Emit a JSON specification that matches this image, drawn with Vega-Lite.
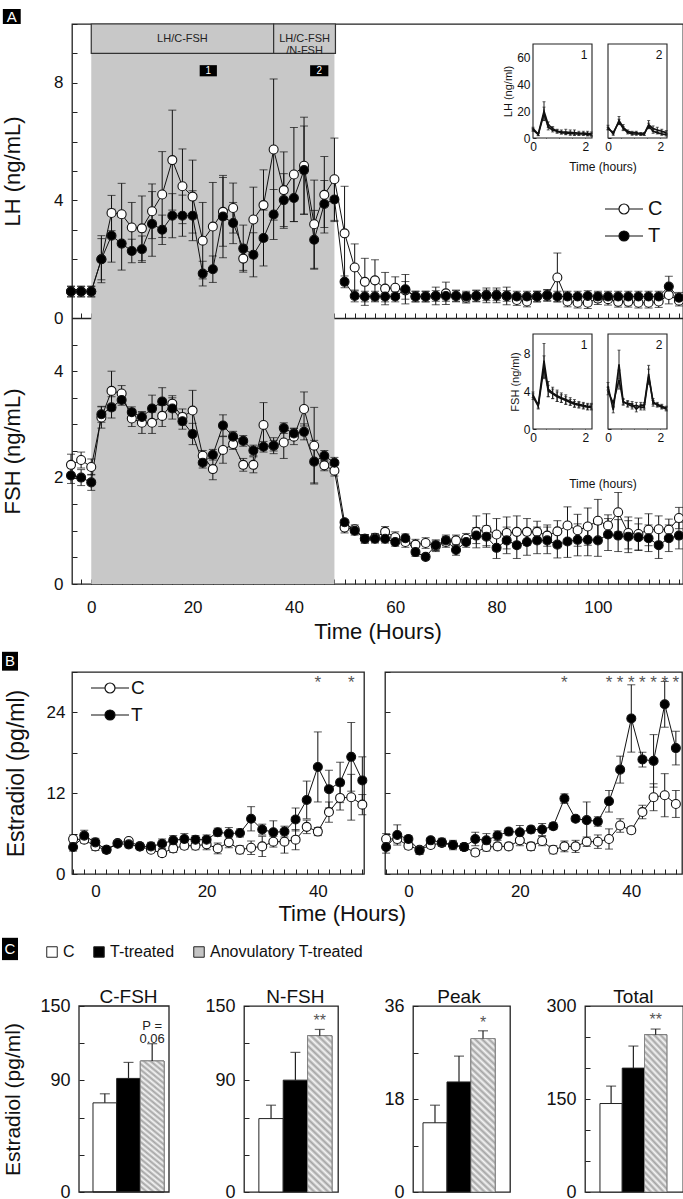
{
"$schema": "https://vega.github.io/schema/vega-lite/v6.json",
"padding": {"left": 0, "top": 8, "right": 0, "bottom": 0},
"config": {
 "font": "Liberation Sans",
 "view": {"stroke": "#222", "strokeWidth": 1.3},
 "axis": {"grid": false, "domain": false, "ticks": true, "tickColor": "#222", "tickWidth": 1, "tickSize": -5, "labelPadding": 14, "labelFontSize": 17, "labelColor": "#111", "labelOverlap": false, "labelFlush": false, "titleFontSize": 22, "titleFontWeight": "normal", "titleColor": "#111", "zindex": 1},
 "legend": {"labelFontSize": 18, "labelColor": "#111", "symbolOpacity": 1},
 "title": {"fontWeight": "normal", "color": "#111"}
},
"datasets": {
 "lh": [
  {"h":-4,"g":"C","v":0.9,"e":0.18},{"h":-2,"g":"C","v":0.9,"e":0.18},{"h":0,"g":"C","v":0.9,"e":0.18},{"h":2,"g":"C","v":2.0,"e":0.7},{"h":4,"g":"C","v":3.57,"e":0.6},{"h":6,"g":"C","v":3.53,"e":1.05},{"h":8,"g":"C","v":3.08,"e":0.85},{"h":10,"g":"C","v":3.05,"e":1.1},{"h":12,"g":"C","v":3.63,"e":0.93},{"h":14,"g":"C","v":4.2,"e":1.46},{"h":16,"g":"C","v":5.37,"e":1.7},{"h":18,"g":"C","v":4.48,"e":1.27},{"h":20,"g":"C","v":4.13,"e":1.24},{"h":22,"g":"C","v":2.63,"e":1.3},{"h":24,"g":"C","v":3.11,"e":1.5},{"h":26,"g":"C","v":3.61,"e":1.17},{"h":28,"g":"C","v":3.74,"e":0.85},{"h":30,"g":"C","v":2.02,"e":0.4},{"h":32,"g":"C","v":3.35,"e":1.1},{"h":34,"g":"C","v":3.84,"e":1.2},{"h":36,"g":"C","v":5.73,"e":2.4},{"h":38,"g":"C","v":4.35,"e":1.3},{"h":40,"g":"C","v":4.88,"e":1.6},{"h":42,"g":"C","v":5.18,"e":1.65},{"h":44,"g":"C","v":3.19,"e":1.5},{"h":46,"g":"C","v":4.19,"e":1.3},{"h":48,"g":"C","v":4.72,"e":1.4},{"h":50,"g":"C","v":2.88,"e":1.6},{"h":52,"g":"C","v":1.72,"e":0.8},{"h":54,"g":"C","v":1.23,"e":0.8},{"h":56,"g":"C","v":1.28,"e":0.7},{"h":58,"g":"C","v":1.0,"e":0.55},{"h":60,"g":"C","v":1.03,"e":0.37},{"h":62,"g":"C","v":0.94,"e":0.3},{"h":64,"g":"C","v":0.73,"e":0.18},{"h":66,"g":"C","v":0.73,"e":0.18},{"h":68,"g":"C","v":0.75,"e":0.3},{"h":70,"g":"C","v":0.84,"e":0.38},{"h":72,"g":"C","v":0.75,"e":0.2},{"h":74,"g":"C","v":0.69,"e":0.18},{"h":76,"g":"C","v":0.75,"e":0.2},{"h":78,"g":"C","v":0.77,"e":0.25},{"h":80,"g":"C","v":0.77,"e":0.25},{"h":82,"g":"C","v":0.75,"e":0.3},{"h":84,"g":"C","v":0.61,"e":0.18},{"h":86,"g":"C","v":0.56,"e":0.18},{"h":88,"g":"C","v":0.73,"e":0.18},{"h":90,"g":"C","v":0.77,"e":0.2},{"h":92,"g":"C","v":1.38,"e":0.83},{"h":94,"g":"C","v":0.56,"e":0.18},{"h":96,"g":"C","v":0.52,"e":0.18},{"h":98,"g":"C","v":0.52,"e":0.2},{"h":100,"g":"C","v":0.66,"e":0.2},{"h":102,"g":"C","v":0.64,"e":0.2},{"h":104,"g":"C","v":0.55,"e":0.18},{"h":106,"g":"C","v":0.55,"e":0.18},{"h":108,"g":"C","v":0.52,"e":0.18},{"h":110,"g":"C","v":0.52,"e":0.18},{"h":112,"g":"C","v":0.56,"e":0.2},{"h":114,"g":"C","v":0.78,"e":0.3},{"h":116,"g":"C","v":0.59,"e":0.18},
  {"h":-4,"g":"T","v":0.9,"e":0.18},{"h":-2,"g":"T","v":0.9,"e":0.18},{"h":0,"g":"T","v":0.9,"e":0.18},{"h":2,"g":"T","v":2.0,"e":0.8},{"h":4,"g":"T","v":2.8,"e":0.9},{"h":6,"g":"T","v":2.53,"e":0.9},{"h":8,"g":"T","v":2.28,"e":0.4},{"h":10,"g":"T","v":2.34,"e":0.45},{"h":12,"g":"T","v":3.2,"e":1.1},{"h":14,"g":"T","v":3.0,"e":0.5},{"h":16,"g":"T","v":3.48,"e":0.75},{"h":18,"g":"T","v":3.48,"e":0.7},{"h":20,"g":"T","v":3.48,"e":0.85},{"h":22,"g":"T","v":1.51,"e":0.42},{"h":24,"g":"T","v":1.66,"e":0.45},{"h":26,"g":"T","v":3.45,"e":1.4},{"h":28,"g":"T","v":3.23,"e":0.7},{"h":30,"g":"T","v":2.36,"e":0.8},{"h":32,"g":"T","v":2.15,"e":0.75},{"h":34,"g":"T","v":2.72,"e":0.95},{"h":36,"g":"T","v":3.52,"e":0.85},{"h":38,"g":"T","v":4.01,"e":0.9},{"h":40,"g":"T","v":4.08,"e":0.8},{"h":42,"g":"T","v":5.03,"e":1.5},{"h":44,"g":"T","v":2.66,"e":1.0},{"h":46,"g":"T","v":3.88,"e":0.8},{"h":48,"g":"T","v":4.03,"e":0.75},{"h":50,"g":"T","v":1.23,"e":0.2},{"h":52,"g":"T","v":0.75,"e":0.2},{"h":54,"g":"T","v":0.73,"e":0.18},{"h":56,"g":"T","v":0.73,"e":0.18},{"h":58,"g":"T","v":0.73,"e":0.18},{"h":60,"g":"T","v":0.73,"e":0.18},{"h":62,"g":"T","v":0.98,"e":0.5},{"h":64,"g":"T","v":0.73,"e":0.18},{"h":66,"g":"T","v":0.73,"e":0.18},{"h":68,"g":"T","v":0.75,"e":0.18},{"h":70,"g":"T","v":0.75,"e":0.18},{"h":72,"g":"T","v":0.75,"e":0.18},{"h":74,"g":"T","v":0.73,"e":0.18},{"h":76,"g":"T","v":0.75,"e":0.18},{"h":78,"g":"T","v":0.77,"e":0.18},{"h":80,"g":"T","v":0.77,"e":0.18},{"h":82,"g":"T","v":0.75,"e":0.18},{"h":84,"g":"T","v":0.73,"e":0.18},{"h":86,"g":"T","v":0.73,"e":0.18},{"h":88,"g":"T","v":0.73,"e":0.18},{"h":90,"g":"T","v":0.77,"e":0.18},{"h":92,"g":"T","v":0.73,"e":0.18},{"h":94,"g":"T","v":0.73,"e":0.18},{"h":96,"g":"T","v":0.73,"e":0.18},{"h":98,"g":"T","v":0.75,"e":0.18},{"h":100,"g":"T","v":0.73,"e":0.18},{"h":102,"g":"T","v":0.73,"e":0.18},{"h":104,"g":"T","v":0.73,"e":0.18},{"h":106,"g":"T","v":0.73,"e":0.18},{"h":108,"g":"T","v":0.73,"e":0.18},{"h":110,"g":"T","v":0.73,"e":0.18},{"h":112,"g":"T","v":0.73,"e":0.18},{"h":114,"g":"T","v":1.07,"e":0.35},{"h":116,"g":"T","v":0.69,"e":0.18}
 ],
 "fsh": [
  {"h":-4,"g":"C","v":2.24,"e":0.2},{"h":-2,"g":"C","v":2.33,"e":0.15},{"h":0,"g":"C","v":2.2,"e":0.15},{"h":2,"g":"C","v":3.13,"e":0.2},{"h":4,"g":"C","v":3.63,"e":0.37},{"h":6,"g":"C","v":3.58,"e":0.15},{"h":8,"g":"C","v":3.11,"e":0.15},{"h":10,"g":"C","v":3.03,"e":0.2},{"h":12,"g":"C","v":3.03,"e":0.2},{"h":14,"g":"C","v":3.16,"e":0.2},{"h":16,"g":"C","v":3.39,"e":0.15},{"h":18,"g":"C","v":3.14,"e":0.15},{"h":20,"g":"C","v":3.26,"e":0.38},{"h":22,"g":"C","v":2.41,"e":0.1},{"h":24,"g":"C","v":2.16,"e":0.2},{"h":26,"g":"C","v":2.52,"e":0.25},{"h":28,"g":"C","v":2.63,"e":0.1},{"h":30,"g":"C","v":2.24,"e":0.12},{"h":32,"g":"C","v":2.24,"e":0.15},{"h":34,"g":"C","v":2.99,"e":0.42},{"h":36,"g":"C","v":2.6,"e":0.15},{"h":38,"g":"C","v":2.66,"e":0.3},{"h":40,"g":"C","v":2.77,"e":0.15},{"h":42,"g":"C","v":3.29,"e":0.32},{"h":44,"g":"C","v":2.6,"e":0.72},{"h":46,"g":"C","v":2.23,"e":0.1},{"h":48,"g":"C","v":2.13,"e":0.1},{"h":50,"g":"C","v":1.06,"e":0.1},{"h":52,"g":"C","v":1.03,"e":0.08},{"h":54,"g":"C","v":0.85,"e":0.08},{"h":56,"g":"C","v":0.87,"e":0.08},{"h":58,"g":"C","v":0.98,"e":0.1},{"h":60,"g":"C","v":0.88,"e":0.1},{"h":62,"g":"C","v":0.79,"e":0.1},{"h":64,"g":"C","v":0.74,"e":0.1},{"h":66,"g":"C","v":0.77,"e":0.1},{"h":68,"g":"C","v":0.71,"e":0.1},{"h":70,"g":"C","v":0.79,"e":0.1},{"h":72,"g":"C","v":0.82,"e":0.1},{"h":74,"g":"C","v":0.85,"e":0.1},{"h":76,"g":"C","v":0.98,"e":0.3},{"h":78,"g":"C","v":1.02,"e":0.3},{"h":80,"g":"C","v":0.93,"e":0.3},{"h":82,"g":"C","v":0.96,"e":0.3},{"h":84,"g":"C","v":0.98,"e":0.3},{"h":86,"g":"C","v":0.98,"e":0.25},{"h":88,"g":"C","v":0.98,"e":0.2},{"h":90,"g":"C","v":0.91,"e":0.2},{"h":92,"g":"C","v":0.99,"e":0.2},{"h":94,"g":"C","v":1.1,"e":0.35},{"h":96,"g":"C","v":1.01,"e":0.3},{"h":98,"g":"C","v":1.08,"e":0.35},{"h":100,"g":"C","v":1.19,"e":0.4},{"h":102,"g":"C","v":1.1,"e":0.2},{"h":104,"g":"C","v":1.35,"e":0.37},{"h":106,"g":"C","v":0.96,"e":0.3},{"h":108,"g":"C","v":0.94,"e":0.3},{"h":110,"g":"C","v":1.02,"e":0.3},{"h":112,"g":"C","v":1.03,"e":0.25},{"h":114,"g":"C","v":1.02,"e":0.2},{"h":116,"g":"C","v":1.24,"e":0.2},
  {"h":-4,"g":"T","v":2.04,"e":0.15},{"h":-2,"g":"T","v":2.0,"e":0.15},{"h":0,"g":"T","v":1.91,"e":0.15},{"h":2,"g":"T","v":3.19,"e":0.15},{"h":4,"g":"T","v":3.32,"e":0.2},{"h":6,"g":"T","v":3.46,"e":0.1},{"h":8,"g":"T","v":3.23,"e":0.1},{"h":10,"g":"T","v":3.14,"e":0.1},{"h":12,"g":"T","v":3.3,"e":0.25},{"h":14,"g":"T","v":3.43,"e":0.26},{"h":16,"g":"T","v":3.3,"e":0.2},{"h":18,"g":"T","v":3.06,"e":0.15},{"h":20,"g":"T","v":2.82,"e":0.2},{"h":22,"g":"T","v":2.28,"e":0.1},{"h":24,"g":"T","v":2.43,"e":0.1},{"h":26,"g":"T","v":2.98,"e":0.2},{"h":28,"g":"T","v":2.77,"e":0.1},{"h":30,"g":"T","v":2.69,"e":0.1},{"h":32,"g":"T","v":2.51,"e":0.1},{"h":34,"g":"T","v":2.58,"e":0.1},{"h":36,"g":"T","v":2.6,"e":0.1},{"h":38,"g":"T","v":2.93,"e":0.1},{"h":40,"g":"T","v":2.83,"e":0.1},{"h":42,"g":"T","v":2.86,"e":0.15},{"h":44,"g":"T","v":2.3,"e":0.4},{"h":46,"g":"T","v":2.41,"e":0.1},{"h":48,"g":"T","v":2.28,"e":0.1},{"h":50,"g":"T","v":1.16,"e":0.05},{"h":52,"g":"T","v":1.0,"e":0.08},{"h":54,"g":"T","v":0.85,"e":0.08},{"h":56,"g":"T","v":0.85,"e":0.08},{"h":58,"g":"T","v":0.85,"e":0.08},{"h":60,"g":"T","v":0.79,"e":0.08},{"h":62,"g":"T","v":0.86,"e":0.08},{"h":64,"g":"T","v":0.6,"e":0.08},{"h":66,"g":"T","v":0.51,"e":0.05},{"h":68,"g":"T","v":0.73,"e":0.1},{"h":70,"g":"T","v":0.82,"e":0.1},{"h":72,"g":"T","v":0.64,"e":0.1},{"h":74,"g":"T","v":0.79,"e":0.1},{"h":76,"g":"T","v":0.91,"e":0.15},{"h":78,"g":"T","v":0.89,"e":0.2},{"h":80,"g":"T","v":0.68,"e":0.2},{"h":82,"g":"T","v":0.82,"e":0.25},{"h":84,"g":"T","v":0.73,"e":0.25},{"h":86,"g":"T","v":0.79,"e":0.25},{"h":88,"g":"T","v":0.82,"e":0.25},{"h":90,"g":"T","v":0.82,"e":0.25},{"h":92,"g":"T","v":0.74,"e":0.25},{"h":94,"g":"T","v":0.8,"e":0.3},{"h":96,"g":"T","v":0.83,"e":0.3},{"h":98,"g":"T","v":0.83,"e":0.3},{"h":100,"g":"T","v":0.82,"e":0.3},{"h":102,"g":"T","v":0.93,"e":0.3},{"h":104,"g":"T","v":0.91,"e":0.3},{"h":106,"g":"T","v":0.89,"e":0.3},{"h":108,"g":"T","v":0.88,"e":0.25},{"h":110,"g":"T","v":0.86,"e":0.25},{"h":112,"g":"T","v":0.73,"e":0.25},{"h":114,"g":"T","v":0.86,"e":0.25},{"h":116,"g":"T","v":0.91,"e":0.25}
 ],
 "lhin1": [
  {"t":0,"g":"C","v":7,"e":1},{"t":0.2,"g":"C","v":3,"e":1},{"t":0.42,"g":"C","v":20,"e":7},{"t":0.58,"g":"C","v":10,"e":2},{"t":0.75,"g":"C","v":7,"e":1.5},{"t":0.92,"g":"C","v":5,"e":1.5},{"t":1.08,"g":"C","v":4.5,"e":1.5},{"t":1.25,"g":"C","v":4.5,"e":2},{"t":1.42,"g":"C","v":4,"e":2},{"t":1.58,"g":"C","v":4,"e":2},{"t":1.75,"g":"C","v":3.5,"e":1.5},{"t":1.92,"g":"C","v":3.5,"e":1.5},{"t":2.08,"g":"C","v":3.5,"e":1.5},{"t":2.22,"g":"C","v":3,"e":1.5},
  {"t":0,"g":"T","v":6,"e":1},{"t":0.2,"g":"T","v":2.5,"e":0.8},{"t":0.42,"g":"T","v":18,"e":5},{"t":0.58,"g":"T","v":8,"e":2},{"t":0.75,"g":"T","v":6,"e":1.5},{"t":0.92,"g":"T","v":5,"e":1},{"t":1.08,"g":"T","v":4,"e":1},{"t":1.25,"g":"T","v":3.5,"e":1},{"t":1.42,"g":"T","v":3.5,"e":1},{"t":1.58,"g":"T","v":3,"e":1},{"t":1.75,"g":"T","v":3,"e":1},{"t":1.92,"g":"T","v":3,"e":1},{"t":2.08,"g":"T","v":2.5,"e":1},{"t":2.22,"g":"T","v":2.5,"e":1}
 ],
 "lhin2": [
  {"t":0,"g":"C","v":8,"e":1.5},{"t":0.2,"g":"C","v":3,"e":1},{"t":0.42,"g":"C","v":13,"e":3},{"t":0.58,"g":"C","v":8,"e":2},{"t":0.75,"g":"C","v":5,"e":1},{"t":0.92,"g":"C","v":4,"e":1},{"t":1.08,"g":"C","v":4,"e":1},{"t":1.25,"g":"C","v":3,"e":1},{"t":1.38,"g":"C","v":3,"e":1},{"t":1.55,"g":"C","v":10,"e":3},{"t":1.72,"g":"C","v":7,"e":2},{"t":1.88,"g":"C","v":6,"e":2},{"t":2.05,"g":"C","v":5,"e":1.5},{"t":2.22,"g":"C","v":4,"e":1.5},
  {"t":0,"g":"T","v":7,"e":1},{"t":0.2,"g":"T","v":4,"e":1},{"t":0.42,"g":"T","v":12,"e":2},{"t":0.58,"g":"T","v":7,"e":1.5},{"t":0.75,"g":"T","v":4,"e":1},{"t":0.92,"g":"T","v":3,"e":1},{"t":1.08,"g":"T","v":3,"e":1},{"t":1.25,"g":"T","v":3,"e":1},{"t":1.38,"g":"T","v":3,"e":1},{"t":1.55,"g":"T","v":9,"e":2},{"t":1.72,"g":"T","v":5,"e":1.5},{"t":1.88,"g":"T","v":4,"e":1},{"t":2.05,"g":"T","v":3,"e":1},{"t":2.22,"g":"T","v":2.5,"e":1}
 ],
 "fshin1": [
  {"t":0,"g":"C","v":3.6,"e":0.3},{"t":0.2,"g":"C","v":2.5,"e":0.3},{"t":0.42,"g":"C","v":7.2,"e":1.8},{"t":0.58,"g":"C","v":4.2,"e":0.8},{"t":0.75,"g":"C","v":3.8,"e":0.6},{"t":0.92,"g":"C","v":3.5,"e":0.6},{"t":1.08,"g":"C","v":3.3,"e":0.5},{"t":1.25,"g":"C","v":3.1,"e":0.5},{"t":1.42,"g":"C","v":2.9,"e":0.4},{"t":1.58,"g":"C","v":2.7,"e":0.4},{"t":1.75,"g":"C","v":2.6,"e":0.3},{"t":1.92,"g":"C","v":2.5,"e":0.3},{"t":2.08,"g":"C","v":2.4,"e":0.3},{"t":2.22,"g":"C","v":2.4,"e":0.3},
  {"t":0,"g":"T","v":3.4,"e":0.3},{"t":0.2,"g":"T","v":2.4,"e":0.3},{"t":0.42,"g":"T","v":6.5,"e":1.2},{"t":0.58,"g":"T","v":4.0,"e":0.6},{"t":0.75,"g":"T","v":3.7,"e":0.5},{"t":0.92,"g":"T","v":3.4,"e":0.5},{"t":1.08,"g":"T","v":3.2,"e":0.4},{"t":1.25,"g":"T","v":3.0,"e":0.4},{"t":1.42,"g":"T","v":2.8,"e":0.3},{"t":1.58,"g":"T","v":2.6,"e":0.3},{"t":1.75,"g":"T","v":2.5,"e":0.3},{"t":1.92,"g":"T","v":2.4,"e":0.3},{"t":2.08,"g":"T","v":2.3,"e":0.3},{"t":2.22,"g":"T","v":2.3,"e":0.3}
 ],
 "fshin2": [
  {"t":0,"g":"C","v":4.5,"e":0.4},{"t":0.2,"g":"C","v":2.0,"e":0.3},{"t":0.42,"g":"C","v":6.8,"e":1.5},{"t":0.58,"g":"C","v":2.8,"e":0.3},{"t":0.75,"g":"C","v":2.7,"e":0.3},{"t":0.92,"g":"C","v":2.6,"e":0.3},{"t":1.08,"g":"C","v":2.1,"e":0.3},{"t":1.25,"g":"C","v":2.5,"e":0.3},{"t":1.38,"g":"C","v":2.5,"e":0.3},{"t":1.55,"g":"C","v":5.8,"e":0.9},{"t":1.72,"g":"C","v":2.7,"e":0.3},{"t":1.88,"g":"C","v":2.6,"e":0.2},{"t":2.05,"g":"C","v":2.4,"e":0.2},{"t":2.22,"g":"C","v":2.2,"e":0.2},
  {"t":0,"g":"T","v":4.0,"e":0.4},{"t":0.2,"g":"T","v":2.7,"e":0.3},{"t":0.42,"g":"T","v":5.2,"e":1.0},{"t":0.58,"g":"T","v":2.9,"e":0.3},{"t":0.75,"g":"T","v":2.6,"e":0.3},{"t":0.92,"g":"T","v":2.4,"e":0.3},{"t":1.08,"g":"T","v":2.5,"e":0.3},{"t":1.25,"g":"T","v":2.3,"e":0.3},{"t":1.38,"g":"T","v":2.3,"e":0.3},{"t":1.55,"g":"T","v":5.5,"e":0.8},{"t":1.72,"g":"T","v":2.9,"e":0.3},{"t":1.88,"g":"T","v":2.5,"e":0.2},{"t":2.05,"g":"T","v":2.3,"e":0.2},{"t":2.22,"g":"T","v":2.1,"e":0.2}
 ],
 "e2L": [
  {"h":-4,"g":"C","v":5.2,"e":0.6},{"h":-2,"g":"C","v":5.1,"e":0.5},{"h":0,"g":"C","v":4.1,"e":0.6},{"h":2,"g":"C","v":3.6,"e":0.5},{"h":4,"g":"C","v":4.6,"e":0.3},{"h":6,"g":"C","v":4.9,"e":0.3},{"h":8,"g":"C","v":4.1,"e":0.4},{"h":10,"g":"C","v":3.6,"e":0.4},{"h":12,"g":"C","v":3.1,"e":0.5},{"h":14,"g":"C","v":3.8,"e":0.6},{"h":16,"g":"C","v":4.2,"e":0.5},{"h":18,"g":"C","v":4.2,"e":0.6},{"h":20,"g":"C","v":4.4,"e":0.8},{"h":22,"g":"C","v":3.8,"e":0.8},{"h":24,"g":"C","v":4.7,"e":0.8},{"h":26,"g":"C","v":3.6,"e":0.6},{"h":28,"g":"C","v":3.9,"e":1.0},{"h":30,"g":"C","v":4.1,"e":1.5},{"h":32,"g":"C","v":4.8,"e":0.8},{"h":34,"g":"C","v":4.8,"e":1.7},{"h":36,"g":"C","v":5.1,"e":1.5},{"h":38,"g":"C","v":7.0,"e":1.0},{"h":40,"g":"C","v":6.3,"e":0.6},{"h":42,"g":"C","v":9.2,"e":1.5},{"h":44,"g":"C","v":11.3,"e":1.8},{"h":46,"g":"C","v":11.4,"e":3.4},{"h":48,"g":"C","v":10.3,"e":1.5},
  {"h":-4,"g":"T","v":4.0,"e":0.6},{"h":-2,"g":"T","v":5.7,"e":0.8},{"h":0,"g":"T","v":4.7,"e":0.6},{"h":2,"g":"T","v":3.6,"e":0.4},{"h":4,"g":"T","v":4.5,"e":0.4},{"h":6,"g":"T","v":4.4,"e":0.5},{"h":8,"g":"T","v":4.1,"e":0.5},{"h":10,"g":"T","v":4.1,"e":0.6},{"h":12,"g":"T","v":4.5,"e":0.7},{"h":14,"g":"T","v":5.0,"e":0.7},{"h":16,"g":"T","v":5.2,"e":0.8},{"h":18,"g":"T","v":5.1,"e":0.6},{"h":20,"g":"T","v":5.1,"e":0.7},{"h":22,"g":"T","v":6.2,"e":0.6},{"h":24,"g":"T","v":6.0,"e":0.9},{"h":26,"g":"T","v":6.1,"e":0.6},{"h":28,"g":"T","v":8.2,"e":1.8},{"h":30,"g":"T","v":6.6,"e":0.8},{"h":32,"g":"T","v":6.2,"e":1.7},{"h":34,"g":"T","v":6.3,"e":0.8},{"h":36,"g":"T","v":8.1,"e":1.7},{"h":38,"g":"T","v":11.0,"e":2.8},{"h":40,"g":"T","v":15.9,"e":5.2},{"h":42,"g":"T","v":12.6,"e":2.8},{"h":44,"g":"T","v":13.6,"e":3.0},{"h":46,"g":"T","v":17.4,"e":5.1},{"h":48,"g":"T","v":13.9,"e":3.5}
 ],
 "e2R": [
  {"h":-4,"g":"C","v":5.2,"e":0.8},{"h":-2,"g":"C","v":5.2,"e":0.6},{"h":0,"g":"C","v":4.2,"e":0.5},{"h":2,"g":"C","v":3.6,"e":0.5},{"h":4,"g":"C","v":4.3,"e":0.4},{"h":6,"g":"C","v":4.6,"e":0.4},{"h":8,"g":"C","v":4.3,"e":0.5},{"h":10,"g":"C","v":4.0,"e":0.5},{"h":12,"g":"C","v":3.2,"e":0.5},{"h":14,"g":"C","v":4.0,"e":0.6},{"h":16,"g":"C","v":4.1,"e":0.5},{"h":18,"g":"C","v":4.1,"e":0.5},{"h":20,"g":"C","v":5.0,"e":0.8},{"h":22,"g":"C","v":4.1,"e":0.6},{"h":24,"g":"C","v":4.9,"e":0.7},{"h":26,"g":"C","v":3.6,"e":0.6},{"h":28,"g":"C","v":4.1,"e":0.8},{"h":30,"g":"C","v":4.1,"e":0.9},{"h":32,"g":"C","v":4.8,"e":0.7},{"h":34,"g":"C","v":4.8,"e":1.0},{"h":36,"g":"C","v":5.2,"e":1.5},{"h":38,"g":"C","v":7.2,"e":1.0},{"h":40,"g":"C","v":6.5,"e":0.5},{"h":42,"g":"C","v":9.2,"e":1.0},{"h":44,"g":"C","v":11.4,"e":2.0},{"h":46,"g":"C","v":11.7,"e":3.2},{"h":48,"g":"C","v":10.4,"e":2.0},
  {"h":-4,"g":"T","v":4.0,"e":0.9},{"h":-2,"g":"T","v":5.8,"e":1.5},{"h":0,"g":"T","v":5.2,"e":0.5},{"h":2,"g":"T","v":3.5,"e":0.6},{"h":4,"g":"T","v":5.0,"e":0.4},{"h":6,"g":"T","v":4.7,"e":0.6},{"h":8,"g":"T","v":4.3,"e":0.7},{"h":10,"g":"T","v":4.0,"e":0.5},{"h":12,"g":"T","v":5.2,"e":1.0},{"h":14,"g":"T","v":5.0,"e":1.0},{"h":16,"g":"T","v":5.7,"e":0.7},{"h":18,"g":"T","v":6.3,"e":0.5},{"h":20,"g":"T","v":6.2,"e":1.0},{"h":22,"g":"T","v":6.6,"e":0.5},{"h":24,"g":"T","v":6.6,"e":0.9},{"h":26,"g":"T","v":7.1,"e":0.5},{"h":28,"g":"T","v":11.2,"e":0.7},{"h":30,"g":"T","v":8.2,"e":0.4},{"h":32,"g":"T","v":8.0,"e":2.7},{"h":34,"g":"T","v":7.8,"e":0.7},{"h":36,"g":"T","v":10.8,"e":1.6},{"h":38,"g":"T","v":15.5,"e":2.0},{"h":40,"g":"T","v":23.1,"e":5.0},{"h":42,"g":"T","v":17.0,"e":1.1},{"h":44,"g":"T","v":16.8,"e":3.9},{"h":46,"g":"T","v":25.2,"e":3.4},{"h":48,"g":"T","v":18.7,"e":2.5}
 ],
 "sigL": [{"h":40},{"h":46}],
 "sigR": [{"h":28},{"h":36},{"h":38},{"h":40},{"h":42},{"h":44},{"h":46},{"h":48}],
 "cb": [
  {"m":"C-FSH","g":"C","v":71.9,"u":79.2},{"m":"C-FSH","g":"T-treated","v":91.6,"u":104.5},{"m":"C-FSH","g":"Anovulatory T-treated","v":105.6,"u":119.6},
  {"m":"N-FSH","g":"C","v":59.2,"u":70.0},{"m":"N-FSH","g":"T-treated","v":90.2,"u":112.6},{"m":"N-FSH","g":"Anovulatory T-treated","v":126.0,"u":131.1},
  {"m":"Peak","g":"C","v":13.4,"u":16.8},{"m":"Peak","g":"T-treated","v":21.3,"u":26.3},{"m":"Peak","g":"Anovulatory T-treated","v":29.7,"u":31.2},
  {"m":"Total","g":"C","v":142.7,"u":170.8},{"m":"Total","g":"T-treated","v":199.8,"u":235.4},{"m":"Total","g":"Anovulatory T-treated","v":253.6,"u":262.8}
 ]
},
"resolve": {"scale": {"fill": "independent"}, "legend": {"fill": "independent"}},
"spacing": 8,
"vconcat": [
 {
  "width": 611, "height": 560,
  "resolve": {"scale": {"x": "independent", "y": "independent"}, "axis": {"x": "independent", "y": "independent"}},
  "layer": [
   {"layer": [
     {"data": {"values": [{}]}, "mark": {"type": "rect", "fill": "#c8c8c8"}, "encoding": {"x": {"datum": 0, "type": "quantitative"}, "x2": {"datum": 48}, "y": {"datum": 0, "type": "quantitative"}, "y2": {"datum": 10}}},
     {"data": {"values": [{}]}, "mark": {"type": "rect", "fill": "#c8c8c8", "stroke": "#333", "strokeWidth": 1.2}, "encoding": {"x": {"datum": 0, "type": "quantitative"}, "x2": {"datum": 36}, "y": {"datum": 9, "type": "quantitative"}, "y2": {"datum": 10}}},
     {"data": {"values": [{}]}, "mark": {"type": "rect", "fill": "#c8c8c8", "stroke": "#333", "strokeWidth": 1.2}, "encoding": {"x": {"datum": 36, "type": "quantitative"}, "x2": {"datum": 48.2}, "y": {"datum": 9, "type": "quantitative"}, "y2": {"datum": 10}}},
     {"data": {"values": [{}]}, "mark": {"type": "text", "text": "LH/C-FSH", "fontSize": 11, "color": "#222", "baseline": "middle"}, "encoding": {"x": {"datum": 18, "type": "quantitative"}, "y": {"datum": 9.5, "type": "quantitative"}}},
     {"data": {"values": [{}]}, "mark": {"type": "text", "text": ["LH/C-FSH", "/N-FSH"], "fontSize": 11, "lineHeight": 12, "color": "#222", "baseline": "middle"}, "encoding": {"x": {"datum": 42.1, "type": "quantitative"}, "y": {"datum": 9.5, "type": "quantitative"}}},
     {"data": {"values": [{}]}, "mark": {"type": "rect", "fill": "black"}, "encoding": {"x": {"datum": 21.4, "type": "quantitative"}, "x2": {"datum": 24.8}, "y": {"datum": 8.22, "type": "quantitative"}, "y2": {"datum": 8.6}}},
     {"data": {"values": [{}]}, "mark": {"type": "text", "text": "1", "fontSize": 10, "color": "white", "baseline": "middle"}, "encoding": {"x": {"datum": 23.1, "type": "quantitative"}, "y": {"datum": 8.41, "type": "quantitative"}}},
     {"data": {"values": [{}]}, "mark": {"type": "rect", "fill": "black"}, "encoding": {"x": {"datum": 43.2, "type": "quantitative"}, "x2": {"datum": 46.8}, "y": {"datum": 8.22, "type": "quantitative"}, "y2": {"datum": 8.6}}},
     {"data": {"values": [{}]}, "mark": {"type": "text", "text": "2", "fontSize": 10, "color": "white", "baseline": "middle"}, "encoding": {"x": {"datum": 45.0, "type": "quantitative"}, "y": {"datum": 8.41, "type": "quantitative"}}},
     {"data": {"values": [{}]}, "mark": {"type": "rect", "fill": "black"}, "encoding": {"x": {"datum": -17.45, "type": "quantitative"}, "x2": {"datum": -13.92}, "y": {"datum": 10, "type": "quantitative"}, "y2": {"datum": 10.51}}},
     {"data": {"values": [{}]}, "mark": {"type": "text", "text": "A", "fontSize": 15, "color": "white", "baseline": "middle"}, "encoding": {"x": {"datum": -15.7, "type": "quantitative"}, "y": {"datum": 10.25, "type": "quantitative"}}},
     {"data": {"name": "lh"}, "mark": {"type": "errorbar", "color": "#111", "ticks": {"size": 8}}, "encoding": {"x": {"field": "h", "type": "quantitative"}, "y": {"field": "v", "type": "quantitative", "title": "LH  (ng/mL)"}, "yError": {"field": "e"}}},
     {"data": {"name": "lh"}, "mark": {"type": "line", "color": "#111", "strokeWidth": 1}, "encoding": {"x": {"field": "h", "type": "quantitative"}, "y": {"field": "v", "type": "quantitative", "title": "LH  (ng/mL)"}, "detail": {"field": "g"}}},
     {"data": {"name": "lh"}, "mark": {"type": "point", "shape": "circle", "filled": true, "size": 80, "stroke": "#111", "strokeWidth": 1.1, "opacity": 1},
      "encoding": {
       "x": {"field": "h", "type": "quantitative", "scale": {"domain": [-3.8, 116.8], "nice": false, "zero": false},
             "axis": {"orient": "bottom", "offset": -266, "tickCount": 200, "values": [-2,0,2,4,6,8,10,12,14,16,18,20,22,24,26,28,30,32,34,36,38,40,42,44,46,48,50,52,54,56,58,60,62,64,66,68,70,72,74,76,78,80,82,84,86,88,90,92,94,96,98,100,102,104,106,108,110,112,114,116], "labels": false, "title": null, "domain": true, "domainColor": "#222", "domainWidth": 1.3}},
       "y": {"field": "v", "type": "quantitative", "scale": {"domain": [0, 10], "range": [294, 0], "nice": false, "zero": false},
             "axis": {"orient": "left", "tickCount": 200, "values": [0,1,2,3,4,5,6,7,8,9,10], "labelExpr": "datum.value % 4 === 0 ? '' + datum.value : ''", "title": "LH  (ng/mL)", "titlePadding": 29}},
       "fill": {"field": "g", "type": "nominal", "scale": {"domain": ["C", "T"], "range": ["white", "black"]},
                "legend": {"orient": "none", "legendX": 541, "legendY": 174, "title": null, "symbolType": "M-1.9,0L-0.5,0M0.5,0L1.9,0M-0.5,0A0.5,0.5 0 1,1 0.5,0A0.5,0.5 0 1,1 -0.5,0", "symbolSize": 400, "symbolStrokeColor": "#111", "symbolStrokeWidth": 1.2, "labelFontSize": 20, "labelOffset": 13, "rowPadding": 6}}
      }}
   ]},
   {"layer": [
     {"data": {"values": [{}]}, "mark": {"type": "rect", "fill": "#c8c8c8"}, "encoding": {"x": {"datum": 0, "type": "quantitative"}, "x2": {"datum": 48}, "y": {"datum": 0, "type": "quantitative"}, "y2": {"datum": 5}}},
     {"data": {"name": "fsh"}, "mark": {"type": "errorbar", "color": "#111", "ticks": {"size": 8}}, "encoding": {"x": {"field": "h", "type": "quantitative"}, "y": {"field": "v", "type": "quantitative", "title": "FSH  (ng/mL)"}, "yError": {"field": "e"}}},
     {"data": {"name": "fsh"}, "mark": {"type": "line", "color": "#111", "strokeWidth": 1}, "encoding": {"x": {"field": "h", "type": "quantitative"}, "y": {"field": "v", "type": "quantitative", "title": "FSH  (ng/mL)"}, "detail": {"field": "g"}}},
     {"data": {"name": "fsh"}, "mark": {"type": "point", "shape": "circle", "filled": true, "size": 80, "stroke": "#111", "strokeWidth": 1.1, "opacity": 1},
      "encoding": {
       "x": {"field": "h", "type": "quantitative", "scale": {"domain": [-3.8, 116.8], "nice": false, "zero": false},
             "axis": {"orient": "bottom", "tickCount": 200, "values": [-2,0,2,4,6,8,10,12,14,16,18,20,22,24,26,28,30,32,34,36,38,40,42,44,46,48,50,52,54,56,58,60,62,64,66,68,70,72,74,76,78,80,82,84,86,88,90,92,94,96,98,100,102,104,106,108,110,112,114,116], "labelExpr": "datum.value % 20 === 0 ? '' + datum.value : ''", "labelPadding": 20, "title": "Time (Hours)", "titlePadding": 6}},
       "y": {"field": "v", "type": "quantitative", "scale": {"domain": [0, 5], "range": [560, 294], "nice": false, "zero": false},
             "axis": {"orient": "left", "tickCount": 200, "values": [0,0.5,1,1.5,2,2.5,3,3.5,4,4.5,5], "labelExpr": "(datum.value % 2 === 0 && datum.value < 5) ? '' + datum.value : ''", "title": "FSH  (ng/mL)", "titlePadding": 29}},
       "fill": {"field": "g", "type": "nominal", "scale": {"domain": ["C", "T"], "range": ["white", "black"]}, "legend": null}
      }}
   ]},
   {"layer": [
     {"data": {"values": [{}]}, "mark": {"type": "rect", "fill": "white", "stroke": "#222", "strokeWidth": 1.1},
      "encoding": {
       "x": {"datum": 0, "type": "quantitative", "scale": {"domain": [0, 2.25], "range": [461, 520], "nice": false, "zero": false},
             "axis": {"orient": "bottom", "offset": -446, "tickCount": 200, "values": [0, 0.5, 1, 1.5, 2], "labelExpr": "datum.value % 2 === 0 ? '' + datum.value : ''", "tickSize": -3, "labelPadding": 6, "labelFontSize": 12, "title": null}},
       "x2": {"datum": 2.25},
       "y": {"datum": 0, "type": "quantitative", "scale": {"domain": [0, 70], "range": [114, 20], "nice": false, "zero": false},
             "axis": {"orient": "left", "offset": -461, "tickCount": 200, "values": [0, 10, 20, 30, 40, 50, 60], "labelExpr": "datum.value % 20 === 0 ? '' + datum.value : ''", "tickSize": -3, "labelPadding": 6, "labelFontSize": 12, "title": "LH (ng/ml)", "titleFontSize": 11, "titlePadding": 3}},
       "y2": {"datum": 70}}},
     {"data": {"name": "lhin1"}, "mark": {"type": "errorbar", "color": "#222", "ticks": {"size": 3}}, "encoding": {"x": {"field": "t", "type": "quantitative"}, "y": {"field": "v", "type": "quantitative", "title": "LH (ng/ml)"}, "yError": {"field": "e"}}},
     {"data": {"name": "lhin1"}, "mark": {"type": "line", "color": "#111", "strokeWidth": 1.6}, "encoding": {"x": {"field": "t", "type": "quantitative"}, "y": {"field": "v", "type": "quantitative", "title": "LH (ng/ml)"}, "detail": {"field": "g"}}},
     {"data": {"values": [{}]}, "mark": {"type": "text", "text": "1", "fontSize": 12, "color": "#111", "baseline": "middle"}, "encoding": {"x": {"datum": 1.95, "type": "quantitative"}, "y": {"datum": 62, "type": "quantitative"}}},
     {"data": {"values": [{}]}, "mark": {"type": "text", "text": "Time (hours)", "fontSize": 12, "color": "#111", "baseline": "alphabetic"}, "encoding": {"x": {"datum": 2.67, "type": "quantitative"}, "y": {"datum": -24.6, "type": "quantitative"}}}
   ]},
   {"layer": [
     {"data": {"values": [{}]}, "mark": {"type": "rect", "fill": "white", "stroke": "#222", "strokeWidth": 1.1},
      "encoding": {
       "x": {"datum": 0, "type": "quantitative", "scale": {"domain": [0, 2.25], "range": [536, 595], "nice": false, "zero": false},
             "axis": {"orient": "bottom", "offset": -446, "tickCount": 200, "values": [0, 0.5, 1, 1.5, 2], "labelExpr": "datum.value % 2 === 0 ? '' + datum.value : ''", "tickSize": -3, "labelPadding": 6, "labelFontSize": 12, "title": null}},
       "x2": {"datum": 2.25},
       "y": {"datum": 0, "type": "quantitative", "scale": {"domain": [0, 70], "range": [114, 20], "nice": false, "zero": false},
             "axis": {"orient": "left", "offset": -536, "tickCount": 200, "values": [0, 10, 20, 30, 40, 50, 60], "labels": false, "tickSize": -3, "title": null}},
       "y2": {"datum": 70}}},
     {"data": {"name": "lhin2"}, "mark": {"type": "errorbar", "color": "#222", "ticks": {"size": 3}}, "encoding": {"x": {"field": "t", "type": "quantitative"}, "y": {"field": "v", "type": "quantitative"}, "yError": {"field": "e"}}},
     {"data": {"name": "lhin2"}, "mark": {"type": "line", "color": "#111", "strokeWidth": 1.6}, "encoding": {"x": {"field": "t", "type": "quantitative"}, "y": {"field": "v", "type": "quantitative"}, "detail": {"field": "g"}}},
     {"data": {"values": [{}]}, "mark": {"type": "text", "text": "2", "fontSize": 12, "color": "#111", "baseline": "middle"}, "encoding": {"x": {"datum": 1.95, "type": "quantitative"}, "y": {"datum": 62, "type": "quantitative"}}}
   ]},
   {"layer": [
     {"data": {"values": [{}]}, "mark": {"type": "rect", "fill": "white", "stroke": "#222", "strokeWidth": 1.1},
      "encoding": {
       "x": {"datum": 0, "type": "quantitative", "scale": {"domain": [0, 2.25], "range": [461, 520], "nice": false, "zero": false},
             "axis": {"orient": "bottom", "offset": -155, "tickCount": 200, "values": [0, 0.5, 1, 1.5, 2], "labelExpr": "datum.value % 2 === 0 ? '' + datum.value : ''", "tickSize": -3, "labelPadding": 6, "labelFontSize": 12, "title": null}},
       "x2": {"datum": 2.25},
       "y": {"datum": 0, "type": "quantitative", "scale": {"domain": [0, 10], "range": [405, 310], "nice": false, "zero": false},
             "axis": {"orient": "left", "offset": -461, "tickCount": 200, "values": [0, 2, 4, 6, 8, 10], "labelExpr": "(datum.value % 4 === 0 && datum.value < 10) ? '' + datum.value : ''", "tickSize": -3, "labelPadding": 6, "labelFontSize": 12, "title": "FSH (ng/ml)", "titleFontSize": 11, "titlePadding": 3}},
       "y2": {"datum": 10}}},
     {"data": {"name": "fshin1"}, "mark": {"type": "errorbar", "color": "#222", "ticks": {"size": 3}}, "encoding": {"x": {"field": "t", "type": "quantitative"}, "y": {"field": "v", "type": "quantitative", "title": "FSH (ng/ml)"}, "yError": {"field": "e"}}},
     {"data": {"name": "fshin1"}, "mark": {"type": "line", "color": "#111", "strokeWidth": 1.6}, "encoding": {"x": {"field": "t", "type": "quantitative"}, "y": {"field": "v", "type": "quantitative", "title": "FSH (ng/ml)"}, "detail": {"field": "g"}}},
     {"data": {"values": [{}]}, "mark": {"type": "text", "text": "1", "fontSize": 12, "color": "#111", "baseline": "middle"}, "encoding": {"x": {"datum": 1.95, "type": "quantitative"}, "y": {"datum": 8.8, "type": "quantitative"}}},
     {"data": {"values": [{}]}, "mark": {"type": "text", "text": "Time (hours)", "fontSize": 12, "color": "#111", "baseline": "alphabetic"}, "encoding": {"x": {"datum": 2.67, "type": "quantitative"}, "y": {"datum": -6.2, "type": "quantitative"}}}
   ]},
   {"layer": [
     {"data": {"values": [{}]}, "mark": {"type": "rect", "fill": "white", "stroke": "#222", "strokeWidth": 1.1},
      "encoding": {
       "x": {"datum": 0, "type": "quantitative", "scale": {"domain": [0, 2.25], "range": [536, 595], "nice": false, "zero": false},
             "axis": {"orient": "bottom", "offset": -155, "tickCount": 200, "values": [0, 0.5, 1, 1.5, 2], "labelExpr": "datum.value % 2 === 0 ? '' + datum.value : ''", "tickSize": -3, "labelPadding": 6, "labelFontSize": 12, "title": null}},
       "x2": {"datum": 2.25},
       "y": {"datum": 0, "type": "quantitative", "scale": {"domain": [0, 10], "range": [405, 310], "nice": false, "zero": false},
             "axis": {"orient": "left", "offset": -536, "tickCount": 200, "values": [0, 2, 4, 6, 8, 10], "labels": false, "tickSize": -3, "title": null}},
       "y2": {"datum": 10}}},
     {"data": {"name": "fshin2"}, "mark": {"type": "errorbar", "color": "#222", "ticks": {"size": 3}}, "encoding": {"x": {"field": "t", "type": "quantitative"}, "y": {"field": "v", "type": "quantitative"}, "yError": {"field": "e"}}},
     {"data": {"name": "fshin2"}, "mark": {"type": "line", "color": "#111", "strokeWidth": 1.6}, "encoding": {"x": {"field": "t", "type": "quantitative"}, "y": {"field": "v", "type": "quantitative"}, "detail": {"field": "g"}}},
     {"data": {"values": [{}]}, "mark": {"type": "text", "text": "2", "fontSize": 12, "color": "#111", "baseline": "middle"}, "encoding": {"x": {"datum": 1.95, "type": "quantitative"}, "y": {"datum": 8.8, "type": "quantitative"}}}
   ]}
  ]
 },
 {
  "resolve": {"scale": {"fill": "independent"}, "legend": {"fill": "independent"}},
  "spacing": 12,
  "vconcat": [
   {
    "hconcat": [
     {
      "width": 292, "height": 202,
      "layer": [
       {"data": {"name": "e2L"}, "mark": {"type": "errorbar", "color": "#111", "ticks": {"size": 8}}, "encoding": {"x": {"field": "h", "type": "quantitative"}, "y": {"field": "v", "type": "quantitative", "title": "Estradiol (pg/ml)"}, "yError": {"field": "e"}}},
       {"data": {"name": "e2L"}, "mark": {"type": "line", "color": "#111", "strokeWidth": 1}, "encoding": {"x": {"field": "h", "type": "quantitative"}, "y": {"field": "v", "type": "quantitative", "title": "Estradiol (pg/ml)"}, "detail": {"field": "g"}}},
       {"data": {"name": "e2L"}, "mark": {"type": "point", "shape": "circle", "filled": true, "size": 80, "stroke": "#111", "strokeWidth": 1.1, "opacity": 1},
        "encoding": {
         "x": {"field": "h", "type": "quantitative", "scale": {"domain": [-4.2, 48.3], "nice": false, "zero": false},
               "axis": {"tickCount": 200, "values": [-4,-2,0,2,4,6,8,10,12,14,16,18,20,22,24,26,28,30,32,34,36,38,40,42,44,46,48], "labelExpr": "datum.value % 20 === 0 ? '' + datum.value : ''", "labelPadding": 14, "title": null}},
         "y": {"field": "v", "type": "quantitative", "scale": {"domain": [0, 30], "nice": false, "zero": false},
               "axis": {"tickCount": 200, "values": [0, 6, 12, 18, 24, 30], "labelExpr": "(datum.value % 12 === 0 && datum.value < 30) ? '' + datum.value : ''", "labelPadding": 12, "title": "Estradiol (pg/ml)", "titleFontSize": 23, "titlePadding": 18}},
         "fill": {"field": "g", "type": "nominal", "scale": {"domain": ["C", "T"], "range": ["white", "black"]},
                  "legend": {"orient": "none", "legendX": 27, "legendY": 5, "title": null, "symbolType": "M-1.9,0L-0.5,0M0.5,0L1.9,0M-0.5,0A0.5,0.5 0 1,1 0.5,0A0.5,0.5 0 1,1 -0.5,0", "symbolSize": 400, "symbolStrokeColor": "#111", "symbolStrokeWidth": 1.2, "labelFontSize": 19, "labelOffset": 10, "rowPadding": 6}}
        }},
       {"data": {"name": "sigL"}, "mark": {"type": "text", "text": "*", "fontSize": 17, "color": "#555", "baseline": "middle"}, "encoding": {"x": {"field": "h", "type": "quantitative"}, "y": {"datum": 28.3, "type": "quantitative"}}},
       {"data": {"values": [{}]}, "mark": {"type": "rect", "fill": "black"}, "encoding": {"x": {"datum": -16.79, "type": "quantitative"}, "x2": {"datum": -13.91}, "y": {"datum": 30.2, "type": "quantitative"}, "y2": {"datum": 33.0}}},
       {"data": {"values": [{}]}, "mark": {"type": "text", "text": "B", "fontSize": 15, "color": "white", "baseline": "middle"}, "encoding": {"x": {"datum": -15.35, "type": "quantitative"}, "y": {"datum": 31.6, "type": "quantitative"}}}
      ]
     },
     {
      "width": 297, "height": 202,
      "layer": [
       {"data": {"name": "e2R"}, "mark": {"type": "errorbar", "color": "#111", "ticks": {"size": 8}}, "encoding": {"x": {"field": "h", "type": "quantitative"}, "y": {"field": "v", "type": "quantitative"}, "yError": {"field": "e"}}},
       {"data": {"name": "e2R"}, "mark": {"type": "line", "color": "#111", "strokeWidth": 1}, "encoding": {"x": {"field": "h", "type": "quantitative"}, "y": {"field": "v", "type": "quantitative"}, "detail": {"field": "g"}}},
       {"data": {"name": "e2R"}, "mark": {"type": "point", "shape": "circle", "filled": true, "size": 80, "stroke": "#111", "strokeWidth": 1.1, "opacity": 1},
        "encoding": {
         "x": {"field": "h", "type": "quantitative", "scale": {"domain": [-4.2, 49.1], "nice": false, "zero": false},
               "axis": {"tickCount": 200, "values": [-4,-2,0,2,4,6,8,10,12,14,16,18,20,22,24,26,28,30,32,34,36,38,40,42,44,46,48], "labelExpr": "datum.value % 20 === 0 ? '' + datum.value : ''", "labelPadding": 14, "title": null}},
         "y": {"field": "v", "type": "quantitative", "scale": {"domain": [0, 30], "nice": false, "zero": false},
               "axis": {"tickCount": 200, "values": [0, 6, 12, 18, 24, 30], "labels": false, "title": null}},
         "fill": {"field": "g", "type": "nominal", "scale": {"domain": ["C", "T"], "range": ["white", "black"]}, "legend": null}
        }},
       {"data": {"name": "sigR"}, "mark": {"type": "text", "text": "*", "fontSize": 17, "color": "#555", "baseline": "middle"}, "encoding": {"x": {"field": "h", "type": "quantitative"}, "y": {"datum": 28.3, "type": "quantitative"}}}
      ]
     }
    ],
    "spacing": 21,
    "bounds": "flush",
    "resolve": {"scale": {"fill": "independent"}, "legend": {"fill": "independent"}},
    "title": {"text": "Time (Hours)", "orient": "bottom", "anchor": "middle", "fontSize": 22, "fontWeight": "normal", "offset": 4}
   },
   {
    "hconcat": [
     {
      "width": 97, "height": 186,
      "view": {"stroke": null},
      "resolve": {"scale": {"x": "independent"}, "axis": {"x": "independent"}},
      "layer": [
       {"layer": [
         {"data": {"name": "cb"}, "transform": [{"filter": "datum.m === 'C-FSH'"}], "mark": {"type": "bar", "stroke": "#222", "strokeWidth": 1},
          "encoding": {
           "x": {"field": "g", "type": "nominal", "scale": {"domain": ["C", "T-treated", "Anovulatory T-treated"], "paddingInner": 0, "paddingOuter": 0.549, "align": 0.808}, "axis": null},
           "y": {"field": "v", "type": "quantitative", "scale": {"domain": [0, 150], "nice": false, "zero": false}, "axis": {"offset": -7, "tickCount": 200, "values": [0, 30, 60, 90, 120, 150], "labelExpr": "(datum.value === 0 || datum.value === 90 || datum.value === 150) ? '' + datum.value : ''", "labelFontSize": 18, "title": "Estradiol (pg/ml)", "titleFontSize": 21, "titlePadding": 16}},
           "fill": {"field": "g", "type": "nominal", "scale": {"domain": ["C", "T-treated", "Anovulatory T-treated"], "range": ["white", "black", "#c4c4c4"]},
                    "legend": {"orient": "none", "legendX": -28, "legendY": -62, "direction": "horizontal", "title": null, "symbolType": "square", "symbolSize": 110, "symbolStrokeColor": "#222", "symbolStrokeWidth": 1, "labelFontSize": 16, "labelOffset": 3, "columnPadding": 16}}
          }},
         {"data": {"name": "cb"}, "transform": [{"filter": "datum.m === 'C-FSH' && datum.g === 'Anovulatory T-treated'"}],
          "mark": {"type": "bar", "stroke": "#8a8a8a", "strokeWidth": 0.8, "fill": {"gradient": "linear", "x1": 0, "y1": 1, "x2": 0.168, "y2": -0.124, "stops": [{"offset":0,"color":"#a3a3a3"},{"offset":0.0185,"color":"#f5f5f5"},{"offset":0.037,"color":"#a3a3a3"},{"offset":0.0556,"color":"#f5f5f5"},{"offset":0.0741,"color":"#a3a3a3"},{"offset":0.0926,"color":"#f5f5f5"},{"offset":0.1111,"color":"#a3a3a3"},{"offset":0.1296,"color":"#f5f5f5"},{"offset":0.1481,"color":"#a3a3a3"},{"offset":0.1667,"color":"#f5f5f5"},{"offset":0.1852,"color":"#a3a3a3"},{"offset":0.2037,"color":"#f5f5f5"},{"offset":0.2222,"color":"#a3a3a3"},{"offset":0.2407,"color":"#f5f5f5"},{"offset":0.2593,"color":"#a3a3a3"},{"offset":0.2778,"color":"#f5f5f5"},{"offset":0.2963,"color":"#a3a3a3"},{"offset":0.3148,"color":"#f5f5f5"},{"offset":0.3333,"color":"#a3a3a3"},{"offset":0.3519,"color":"#f5f5f5"},{"offset":0.3704,"color":"#a3a3a3"},{"offset":0.3889,"color":"#f5f5f5"},{"offset":0.4074,"color":"#a3a3a3"},{"offset":0.4259,"color":"#f5f5f5"},{"offset":0.4444,"color":"#a3a3a3"},{"offset":0.463,"color":"#f5f5f5"},{"offset":0.4815,"color":"#a3a3a3"},{"offset":0.5,"color":"#f5f5f5"},{"offset":0.5185,"color":"#a3a3a3"},{"offset":0.537,"color":"#f5f5f5"},{"offset":0.5556,"color":"#a3a3a3"},{"offset":0.5741,"color":"#f5f5f5"},{"offset":0.5926,"color":"#a3a3a3"},{"offset":0.6111,"color":"#f5f5f5"},{"offset":0.6296,"color":"#a3a3a3"},{"offset":0.6481,"color":"#f5f5f5"},{"offset":0.6667,"color":"#a3a3a3"},{"offset":0.6852,"color":"#f5f5f5"},{"offset":0.7037,"color":"#a3a3a3"},{"offset":0.7222,"color":"#f5f5f5"},{"offset":0.7407,"color":"#a3a3a3"},{"offset":0.7593,"color":"#f5f5f5"},{"offset":0.7778,"color":"#a3a3a3"},{"offset":0.7963,"color":"#f5f5f5"},{"offset":0.8148,"color":"#a3a3a3"},{"offset":0.8333,"color":"#f5f5f5"},{"offset":0.8519,"color":"#a3a3a3"},{"offset":0.8704,"color":"#f5f5f5"},{"offset":0.8889,"color":"#a3a3a3"},{"offset":0.9074,"color":"#f5f5f5"},{"offset":0.9259,"color":"#a3a3a3"},{"offset":0.9444,"color":"#f5f5f5"},{"offset":0.963,"color":"#a3a3a3"},{"offset":0.9815,"color":"#f5f5f5"},{"offset":1,"color":"#a3a3a3"}]}},
          "encoding": {"x": {"field": "g", "type": "nominal", "axis": null}, "y": {"field": "v", "type": "quantitative"}}},
         {"data": {"name": "cb"}, "transform": [{"filter": "datum.m === 'C-FSH'"}], "mark": {"type": "rule", "color": "#222", "strokeWidth": 1.2}, "encoding": {"x": {"field": "g", "type": "nominal", "axis": null}, "y": {"field": "v", "type": "quantitative"}, "y2": {"field": "u"}}},
         {"data": {"name": "cb"}, "transform": [{"filter": "datum.m === 'C-FSH'"}], "mark": {"type": "tick", "color": "#222", "thickness": 1.2, "size": 10}, "encoding": {"x": {"field": "g", "type": "nominal", "axis": null}, "y": {"field": "u", "type": "quantitative"}}},
         {"data": {"values": [{}]}, "mark": {"type": "text", "text": ["P =", "0.06"], "fontSize": 13, "lineHeight": 13, "baseline": "alphabetic", "color": "#222"}, "encoding": {"x": {"datum": "Anovulatory T-treated", "type": "nominal", "axis": null}, "y": {"datum": 131, "type": "quantitative"}}},
         {"data": {"values": [{}]}, "mark": {"type": "text", "text": "C-FSH", "fontSize": 19, "baseline": "alphabetic", "color": "#111"}, "encoding": {"x": {"datum": "T-treated", "type": "nominal", "axis": null}, "y": {"datum": 152.4, "type": "quantitative"}}}
       ]},
       {"data": {"values": [{}]}, "layer": [
         {"mark": {"type": "rect", "fill": null, "stroke": "#222", "strokeWidth": 1.3}, "encoding": {"x": {"datum": 0.0722, "type": "quantitative", "scale": {"domain": [0, 1], "nice": false, "zero": false}, "axis": null}, "x2": {"datum": 1}, "y": {"datum": 0, "type": "quantitative"}, "y2": {"datum": 150}}},
         {"mark": {"type": "rect", "fill": "black"}, "encoding": {"x": {"datum": -0.7216, "type": "quantitative", "axis": null}, "x2": {"datum": -0.5567}, "y": {"datum": 187, "type": "quantitative"}, "y2": {"datum": 205}}},
         {"mark": {"type": "text", "text": "C", "fontSize": 15, "color": "white", "baseline": "middle"}, "encoding": {"x": {"datum": -0.639, "type": "quantitative", "axis": null}, "y": {"datum": 196, "type": "quantitative"}}}
       ]}
      ]
     },
     {
      "width": 94, "height": 186,
      "layer": [
       {"data": {"name": "cb"}, "transform": [{"filter": "datum.m === 'N-FSH'"}], "mark": {"type": "bar", "stroke": "#222", "strokeWidth": 1},
        "encoding": {
         "x": {"field": "g", "type": "nominal", "scale": {"domain": ["C", "T-treated", "Anovulatory T-treated"], "paddingInner": 0, "paddingOuter": 0.43, "align": 0.71}, "axis": null},
         "y": {"field": "v", "type": "quantitative", "scale": {"domain": [0, 150], "nice": false, "zero": false}, "axis": {"tickCount": 200, "values": [0, 30, 60, 90, 120, 150], "labelExpr": "(datum.value === 0 || datum.value === 90 || datum.value === 150) ? '' + datum.value : ''", "labelFontSize": 18, "title": null}},
         "fill": {"field": "g", "type": "nominal", "scale": {"domain": ["C", "T-treated", "Anovulatory T-treated"], "range": ["white", "black", "#c4c4c4"]}, "legend": null}
        }},
       {"data": {"name": "cb"}, "transform": [{"filter": "datum.m === 'N-FSH' && datum.g === 'Anovulatory T-treated'"}],
        "mark": {"type": "bar", "stroke": "#8a8a8a", "strokeWidth": 0.8, "fill": {"gradient": "linear", "x1": 0, "y1": 1, "x2": 0.168, "y2": -0.124, "stops": [{"offset":0,"color":"#a3a3a3"},{"offset":0.0185,"color":"#f5f5f5"},{"offset":0.037,"color":"#a3a3a3"},{"offset":0.0556,"color":"#f5f5f5"},{"offset":0.0741,"color":"#a3a3a3"},{"offset":0.0926,"color":"#f5f5f5"},{"offset":0.1111,"color":"#a3a3a3"},{"offset":0.1296,"color":"#f5f5f5"},{"offset":0.1481,"color":"#a3a3a3"},{"offset":0.1667,"color":"#f5f5f5"},{"offset":0.1852,"color":"#a3a3a3"},{"offset":0.2037,"color":"#f5f5f5"},{"offset":0.2222,"color":"#a3a3a3"},{"offset":0.2407,"color":"#f5f5f5"},{"offset":0.2593,"color":"#a3a3a3"},{"offset":0.2778,"color":"#f5f5f5"},{"offset":0.2963,"color":"#a3a3a3"},{"offset":0.3148,"color":"#f5f5f5"},{"offset":0.3333,"color":"#a3a3a3"},{"offset":0.3519,"color":"#f5f5f5"},{"offset":0.3704,"color":"#a3a3a3"},{"offset":0.3889,"color":"#f5f5f5"},{"offset":0.4074,"color":"#a3a3a3"},{"offset":0.4259,"color":"#f5f5f5"},{"offset":0.4444,"color":"#a3a3a3"},{"offset":0.463,"color":"#f5f5f5"},{"offset":0.4815,"color":"#a3a3a3"},{"offset":0.5,"color":"#f5f5f5"},{"offset":0.5185,"color":"#a3a3a3"},{"offset":0.537,"color":"#f5f5f5"},{"offset":0.5556,"color":"#a3a3a3"},{"offset":0.5741,"color":"#f5f5f5"},{"offset":0.5926,"color":"#a3a3a3"},{"offset":0.6111,"color":"#f5f5f5"},{"offset":0.6296,"color":"#a3a3a3"},{"offset":0.6481,"color":"#f5f5f5"},{"offset":0.6667,"color":"#a3a3a3"},{"offset":0.6852,"color":"#f5f5f5"},{"offset":0.7037,"color":"#a3a3a3"},{"offset":0.7222,"color":"#f5f5f5"},{"offset":0.7407,"color":"#a3a3a3"},{"offset":0.7593,"color":"#f5f5f5"},{"offset":0.7778,"color":"#a3a3a3"},{"offset":0.7963,"color":"#f5f5f5"},{"offset":0.8148,"color":"#a3a3a3"},{"offset":0.8333,"color":"#f5f5f5"},{"offset":0.8519,"color":"#a3a3a3"},{"offset":0.8704,"color":"#f5f5f5"},{"offset":0.8889,"color":"#a3a3a3"},{"offset":0.9074,"color":"#f5f5f5"},{"offset":0.9259,"color":"#a3a3a3"},{"offset":0.9444,"color":"#f5f5f5"},{"offset":0.963,"color":"#a3a3a3"},{"offset":0.9815,"color":"#f5f5f5"},{"offset":1,"color":"#a3a3a3"}]}},
        "encoding": {"x": {"field": "g", "type": "nominal", "axis": null}, "y": {"field": "v", "type": "quantitative"}}},
       {"data": {"name": "cb"}, "transform": [{"filter": "datum.m === 'N-FSH'"}], "mark": {"type": "rule", "color": "#222", "strokeWidth": 1.2}, "encoding": {"x": {"field": "g", "type": "nominal", "axis": null}, "y": {"field": "v", "type": "quantitative"}, "y2": {"field": "u"}}},
       {"data": {"name": "cb"}, "transform": [{"filter": "datum.m === 'N-FSH'"}], "mark": {"type": "tick", "color": "#222", "thickness": 1.2, "size": 10}, "encoding": {"x": {"field": "g", "type": "nominal", "axis": null}, "y": {"field": "u", "type": "quantitative"}}},
       {"data": {"values": [{}]}, "mark": {"type": "text", "text": "**", "fontSize": 16, "baseline": "middle", "color": "#555"}, "encoding": {"x": {"datum": "Anovulatory T-treated", "type": "nominal", "axis": null}, "y": {"datum": 138, "type": "quantitative"}}},
       {"data": {"values": [{}]}, "mark": {"type": "text", "text": "N-FSH", "fontSize": 19, "baseline": "alphabetic", "color": "#111"}, "encoding": {"x": {"datum": "T-treated", "type": "nominal", "axis": null}, "y": {"datum": 152.4, "type": "quantitative"}}}
      ]
     },
     {
      "width": 97, "height": 186,
      "layer": [
       {"data": {"name": "cb"}, "transform": [{"filter": "datum.m === 'Peak'"}], "mark": {"type": "bar", "stroke": "#222", "strokeWidth": 1},
        "encoding": {
         "x": {"field": "g", "type": "nominal", "scale": {"domain": ["C", "T-treated", "Anovulatory T-treated"], "paddingInner": 0, "paddingOuter": 0.52, "align": 0.4}, "axis": null},
         "y": {"field": "v", "type": "quantitative", "scale": {"domain": [0, 36], "nice": false, "zero": false}, "axis": {"tickCount": 200, "values": [0, 9, 18, 27, 36], "labelExpr": "(datum.value % 18 === 0) ? '' + datum.value : ''", "labelFontSize": 18, "title": null}},
         "fill": {"field": "g", "type": "nominal", "scale": {"domain": ["C", "T-treated", "Anovulatory T-treated"], "range": ["white", "black", "#c4c4c4"]}, "legend": null}
        }},
       {"data": {"name": "cb"}, "transform": [{"filter": "datum.m === 'Peak' && datum.g === 'Anovulatory T-treated'"}],
        "mark": {"type": "bar", "stroke": "#8a8a8a", "strokeWidth": 0.8, "fill": {"gradient": "linear", "x1": 0, "y1": 1, "x2": 0.168, "y2": -0.124, "stops": [{"offset":0,"color":"#a3a3a3"},{"offset":0.0185,"color":"#f5f5f5"},{"offset":0.037,"color":"#a3a3a3"},{"offset":0.0556,"color":"#f5f5f5"},{"offset":0.0741,"color":"#a3a3a3"},{"offset":0.0926,"color":"#f5f5f5"},{"offset":0.1111,"color":"#a3a3a3"},{"offset":0.1296,"color":"#f5f5f5"},{"offset":0.1481,"color":"#a3a3a3"},{"offset":0.1667,"color":"#f5f5f5"},{"offset":0.1852,"color":"#a3a3a3"},{"offset":0.2037,"color":"#f5f5f5"},{"offset":0.2222,"color":"#a3a3a3"},{"offset":0.2407,"color":"#f5f5f5"},{"offset":0.2593,"color":"#a3a3a3"},{"offset":0.2778,"color":"#f5f5f5"},{"offset":0.2963,"color":"#a3a3a3"},{"offset":0.3148,"color":"#f5f5f5"},{"offset":0.3333,"color":"#a3a3a3"},{"offset":0.3519,"color":"#f5f5f5"},{"offset":0.3704,"color":"#a3a3a3"},{"offset":0.3889,"color":"#f5f5f5"},{"offset":0.4074,"color":"#a3a3a3"},{"offset":0.4259,"color":"#f5f5f5"},{"offset":0.4444,"color":"#a3a3a3"},{"offset":0.463,"color":"#f5f5f5"},{"offset":0.4815,"color":"#a3a3a3"},{"offset":0.5,"color":"#f5f5f5"},{"offset":0.5185,"color":"#a3a3a3"},{"offset":0.537,"color":"#f5f5f5"},{"offset":0.5556,"color":"#a3a3a3"},{"offset":0.5741,"color":"#f5f5f5"},{"offset":0.5926,"color":"#a3a3a3"},{"offset":0.6111,"color":"#f5f5f5"},{"offset":0.6296,"color":"#a3a3a3"},{"offset":0.6481,"color":"#f5f5f5"},{"offset":0.6667,"color":"#a3a3a3"},{"offset":0.6852,"color":"#f5f5f5"},{"offset":0.7037,"color":"#a3a3a3"},{"offset":0.7222,"color":"#f5f5f5"},{"offset":0.7407,"color":"#a3a3a3"},{"offset":0.7593,"color":"#f5f5f5"},{"offset":0.7778,"color":"#a3a3a3"},{"offset":0.7963,"color":"#f5f5f5"},{"offset":0.8148,"color":"#a3a3a3"},{"offset":0.8333,"color":"#f5f5f5"},{"offset":0.8519,"color":"#a3a3a3"},{"offset":0.8704,"color":"#f5f5f5"},{"offset":0.8889,"color":"#a3a3a3"},{"offset":0.9074,"color":"#f5f5f5"},{"offset":0.9259,"color":"#a3a3a3"},{"offset":0.9444,"color":"#f5f5f5"},{"offset":0.963,"color":"#a3a3a3"},{"offset":0.9815,"color":"#f5f5f5"},{"offset":1,"color":"#a3a3a3"}]}},
        "encoding": {"x": {"field": "g", "type": "nominal", "axis": null}, "y": {"field": "v", "type": "quantitative"}}},
       {"data": {"name": "cb"}, "transform": [{"filter": "datum.m === 'Peak'"}], "mark": {"type": "rule", "color": "#222", "strokeWidth": 1.2}, "encoding": {"x": {"field": "g", "type": "nominal", "axis": null}, "y": {"field": "v", "type": "quantitative"}, "y2": {"field": "u"}}},
       {"data": {"name": "cb"}, "transform": [{"filter": "datum.m === 'Peak'"}], "mark": {"type": "tick", "color": "#222", "thickness": 1.2, "size": 10}, "encoding": {"x": {"field": "g", "type": "nominal", "axis": null}, "y": {"field": "u", "type": "quantitative"}}},
       {"data": {"values": [{}]}, "mark": {"type": "text", "text": "*", "fontSize": 16, "baseline": "middle", "color": "#555"}, "encoding": {"x": {"datum": "Anovulatory T-treated", "type": "nominal", "axis": null}, "y": {"datum": 32.8, "type": "quantitative"}}},
       {"data": {"values": [{}]}, "mark": {"type": "text", "text": "Peak", "fontSize": 19, "baseline": "alphabetic", "color": "#111"}, "encoding": {"x": {"datum": "T-treated", "type": "nominal", "axis": null}, "y": {"datum": 36.6, "type": "quantitative"}}}
      ]
     },
     {
      "width": 98, "height": 186,
      "layer": [
       {"data": {"name": "cb"}, "transform": [{"filter": "datum.m === 'Total'"}], "mark": {"type": "bar", "stroke": "#222", "strokeWidth": 1},
        "encoding": {
         "x": {"field": "g", "type": "nominal", "scale": {"domain": ["C", "T-treated", "Anovulatory T-treated"], "paddingInner": 0, "paddingOuter": 0.7, "align": 0.48}, "axis": null},
         "y": {"field": "v", "type": "quantitative", "scale": {"domain": [0, 300], "nice": false, "zero": false}, "axis": {"tickCount": 200, "values": [0, 50, 100, 150, 200, 250, 300], "labelExpr": "(datum.value % 150 === 0) ? '' + datum.value : ''", "labelFontSize": 18, "title": null}},
         "fill": {"field": "g", "type": "nominal", "scale": {"domain": ["C", "T-treated", "Anovulatory T-treated"], "range": ["white", "black", "#c4c4c4"]}, "legend": null}
        }},
       {"data": {"name": "cb"}, "transform": [{"filter": "datum.m === 'Total' && datum.g === 'Anovulatory T-treated'"}],
        "mark": {"type": "bar", "stroke": "#8a8a8a", "strokeWidth": 0.8, "fill": {"gradient": "linear", "x1": 0, "y1": 1, "x2": 0.168, "y2": -0.124, "stops": [{"offset":0,"color":"#a3a3a3"},{"offset":0.0185,"color":"#f5f5f5"},{"offset":0.037,"color":"#a3a3a3"},{"offset":0.0556,"color":"#f5f5f5"},{"offset":0.0741,"color":"#a3a3a3"},{"offset":0.0926,"color":"#f5f5f5"},{"offset":0.1111,"color":"#a3a3a3"},{"offset":0.1296,"color":"#f5f5f5"},{"offset":0.1481,"color":"#a3a3a3"},{"offset":0.1667,"color":"#f5f5f5"},{"offset":0.1852,"color":"#a3a3a3"},{"offset":0.2037,"color":"#f5f5f5"},{"offset":0.2222,"color":"#a3a3a3"},{"offset":0.2407,"color":"#f5f5f5"},{"offset":0.2593,"color":"#a3a3a3"},{"offset":0.2778,"color":"#f5f5f5"},{"offset":0.2963,"color":"#a3a3a3"},{"offset":0.3148,"color":"#f5f5f5"},{"offset":0.3333,"color":"#a3a3a3"},{"offset":0.3519,"color":"#f5f5f5"},{"offset":0.3704,"color":"#a3a3a3"},{"offset":0.3889,"color":"#f5f5f5"},{"offset":0.4074,"color":"#a3a3a3"},{"offset":0.4259,"color":"#f5f5f5"},{"offset":0.4444,"color":"#a3a3a3"},{"offset":0.463,"color":"#f5f5f5"},{"offset":0.4815,"color":"#a3a3a3"},{"offset":0.5,"color":"#f5f5f5"},{"offset":0.5185,"color":"#a3a3a3"},{"offset":0.537,"color":"#f5f5f5"},{"offset":0.5556,"color":"#a3a3a3"},{"offset":0.5741,"color":"#f5f5f5"},{"offset":0.5926,"color":"#a3a3a3"},{"offset":0.6111,"color":"#f5f5f5"},{"offset":0.6296,"color":"#a3a3a3"},{"offset":0.6481,"color":"#f5f5f5"},{"offset":0.6667,"color":"#a3a3a3"},{"offset":0.6852,"color":"#f5f5f5"},{"offset":0.7037,"color":"#a3a3a3"},{"offset":0.7222,"color":"#f5f5f5"},{"offset":0.7407,"color":"#a3a3a3"},{"offset":0.7593,"color":"#f5f5f5"},{"offset":0.7778,"color":"#a3a3a3"},{"offset":0.7963,"color":"#f5f5f5"},{"offset":0.8148,"color":"#a3a3a3"},{"offset":0.8333,"color":"#f5f5f5"},{"offset":0.8519,"color":"#a3a3a3"},{"offset":0.8704,"color":"#f5f5f5"},{"offset":0.8889,"color":"#a3a3a3"},{"offset":0.9074,"color":"#f5f5f5"},{"offset":0.9259,"color":"#a3a3a3"},{"offset":0.9444,"color":"#f5f5f5"},{"offset":0.963,"color":"#a3a3a3"},{"offset":0.9815,"color":"#f5f5f5"},{"offset":1,"color":"#a3a3a3"}]}},
        "encoding": {"x": {"field": "g", "type": "nominal", "axis": null}, "y": {"field": "v", "type": "quantitative"}}},
       {"data": {"name": "cb"}, "transform": [{"filter": "datum.m === 'Total'"}], "mark": {"type": "rule", "color": "#222", "strokeWidth": 1.2}, "encoding": {"x": {"field": "g", "type": "nominal", "axis": null}, "y": {"field": "v", "type": "quantitative"}, "y2": {"field": "u"}}},
       {"data": {"name": "cb"}, "transform": [{"filter": "datum.m === 'Total'"}], "mark": {"type": "tick", "color": "#222", "thickness": 1.2, "size": 10}, "encoding": {"x": {"field": "g", "type": "nominal", "axis": null}, "y": {"field": "u", "type": "quantitative"}}},
       {"data": {"values": [{}]}, "mark": {"type": "text", "text": "**", "fontSize": 16, "baseline": "middle", "color": "#555"}, "encoding": {"x": {"datum": "Anovulatory T-treated", "type": "nominal", "axis": null}, "y": {"datum": 277, "type": "quantitative"}}},
       {"data": {"values": [{}]}, "mark": {"type": "text", "text": "Total", "fontSize": 19, "baseline": "alphabetic", "color": "#111"}, "encoding": {"x": {"datum": "T-treated", "type": "nominal", "axis": null}, "y": {"datum": 304.8, "type": "quantitative"}}}
      ]
     }
    ],
    "spacing": 75,
    "bounds": "flush",
    "resolve": {"scale": {"fill": "independent"}, "legend": {"fill": "independent"}}
   }
  ]
 }
]
}
